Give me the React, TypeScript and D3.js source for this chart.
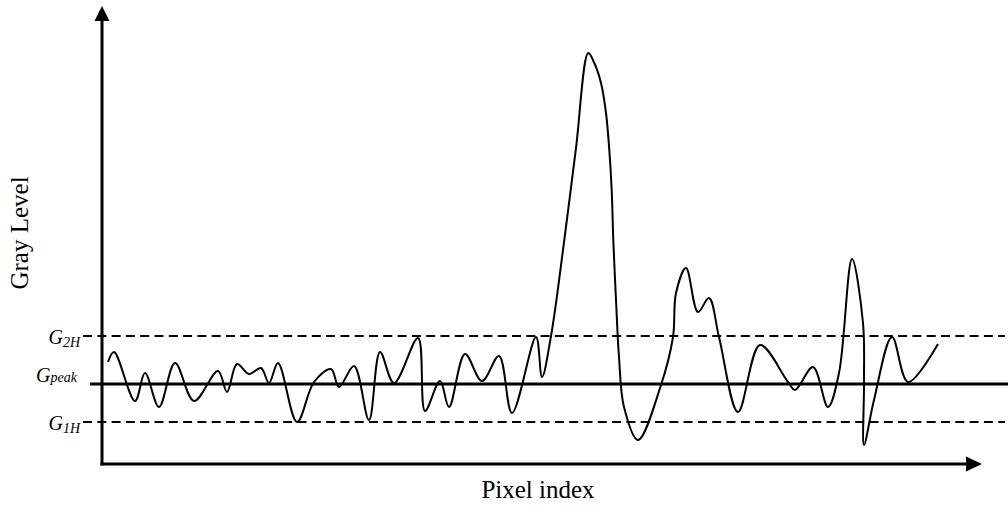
import React from "react";
import * as d3 from "d3";

// Pixel index (x) and gray level (y)
const pixelIndex = [6, 12, 33, 43, 57, 73, 92, 116, 125, 135, 147, 159, 167, 176, 195, 212, 229, 237, 252, 267, 278, 292, 316, 323, 338, 347, 363, 380, 397, 410, 434, 440, 449, 462.3, 474, 486.3, 492.3, 499, 504, 507.3, 509.7, 511.3, 514, 517, 522, 536, 559, 571, 574, 584, 596, 607, 617, 636, 658, 686, 693, 711, 726, 737, 750, 761, 762, 762, 772, 790, 806, 836];
const grayLevel = [102, 112, 63, 91, 57, 101, 63, 93, 72, 100, 90, 96, 81, 101, 42, 82, 95, 77, 98, 44, 112, 81, 126, 53, 83, 57, 110, 83, 108, 51, 127, 87, 128, 224, 316, 411, 401, 381, 351, 314, 274, 224, 164, 107, 57, 24, 79, 127, 171, 196, 152, 166, 127, 52, 119, 82, 74, 97, 57, 91, 205, 141, 81, 19, 64, 127, 82, 120];

const thresholdNames = ["G2H", "Gpeak", "G1H"];
const thresholdMain = ["G", "G", "G"];
const thresholdSub = ["2H", "peak", "1H"];
const thresholdValues = [128, 80, 42];
const thresholdDashed = [true, false, true];

const xTitle = "Pixel index";
const yTitle = "Gray Level";

const W = 1008;
const H = 508;
const FONT = "'Liberation Serif', 'Times New Roman', serif";

export default function App() {
  const x = d3.scaleLinear().domain([0, 880]).range([102, 982]);
  const y = d3.scaleLinear().domain([0, 460]).range([464, 4]);

  const pts: [number, number][] = pixelIndex.map((p, i) => [x(p), y(grayLevel[i])]);
  const line = d3.line().curve(d3.curveCatmullRom.alpha(0.5));
  const d = line(pts) || "";

  const x0 = x(0);
  const y0 = y(0);

  return (
    <svg
      width={W}
      height={H}
      style={{ position: "absolute", left: 0, top: 0, background: "#fff" }}
      fontFamily={FONT}
    >
      {/* threshold lines */}
      {thresholdValues.map((v, i) => (
        <line
          key={thresholdNames[i]}
          x1={thresholdDashed[i] ? 83 : 90}
          x2={thresholdDashed[i] ? 1005 : 1008}
          y1={y(v)}
          y2={y(v)}
          stroke="#000"
          strokeWidth={thresholdDashed[i] ? 1.8 : 3}
          strokeDasharray={thresholdDashed[i] ? "9,5.3" : undefined}
        />
      ))}
      {/* labels */}
      {thresholdValues.map((v, i) => (
        <text
          key={"l" + thresholdNames[i]}
          x={i === 1 ? 77 : 80}
          y={y(v) + (i === 0 ? 8 : i === 1 ? -2 : 8)}
          textAnchor="end"
          fontStyle="italic"
          fontSize={20}
        >
          <tspan>{thresholdMain[i]}</tspan>
          <tspan fontSize={14} dy={i === 1 ? 0 : 2.5}>{thresholdSub[i]}</tspan>
        </text>
      ))}
      {/* axes */}
      <line x1={x0} x2={x0} y1={y0 + 1.5} y2={20} stroke="#000" strokeWidth={3} />
      <polygon points={`${x0},6 ${x0 - 7.5},21 ${x0 + 7.5},21`} fill="#000" />
      <line x1={x0 - 1.5} x2={967} y1={y0} y2={y0} stroke="#000" strokeWidth={3} />
      <polygon points={`982,${y0} 966,${y0 - 7.5} 966,${y0 + 7.5}`} fill="#000" />
      {/* curve */}
      <path d={d} fill="none" stroke="#000" strokeWidth={2} strokeLinejoin="round" />
      {/* titles */}
      <text x={538} y={498} textAnchor="middle" fontSize={25}>
        {xTitle}
      </text>
      <text transform="translate(28,233) rotate(-90)" textAnchor="middle" fontSize={25}>
        {yTitle}
      </text>
    </svg>
  );
}
